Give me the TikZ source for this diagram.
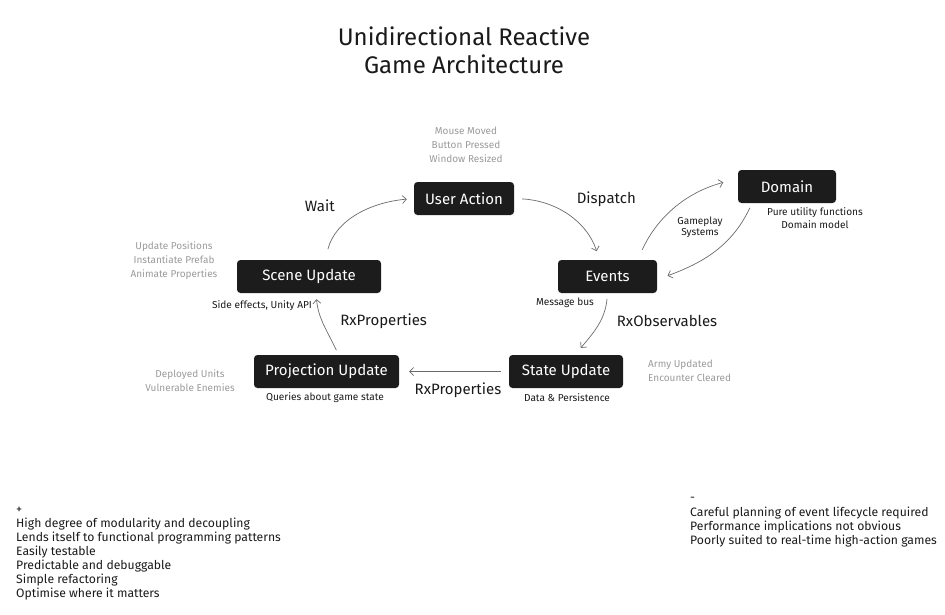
\documentclass[tikz,border=0pt]{standalone}
\usepackage{fontspec}
\setmainfont{Fira Sans}
\usetikzlibrary{arrows.meta,positioning}
\definecolor{boxfill}{HTML}{1C1C1C}
\definecolor{notegray}{HTML}{9A9A9A}
\definecolor{darktext}{HTML}{1A1A1A}
\definecolor{linegray}{HTML}{6A6A6A}
\begin{document}
\begin{tikzpicture}[x=1pt,y=1pt]
% Definição de estilos
\tikzset{
  block/.style={rectangle, rounded corners=3.5pt, fill=boxfill, text=white, minimum height=33pt, inner sep=0pt, font=\fontsize{15}{16}\selectfont},
  flow/.style={draw=linegray, line width=0.7pt, -{Straight Barb[length=4pt,width=8pt]}},
  flowlabel/.style={text=darktext, font=\fontsize{15}{16}\selectfont, inner sep=0pt},
  note/.style={text=notegray, align=center, inner sep=0pt, font=\fontsize{10}{14}\selectfont},
  caption/.style={text=darktext, align=center, inner sep=0pt, font=\fontsize{10.1}{13}\selectfont},
  listing/.style={text=darktext, align=left, inner sep=0pt, anchor=north west, font=\fontsize{12.2}{14}\selectfont}
}
\useasboundingbox (0,0) rectangle (945,-614);

% Título
\node[text=darktext, align=center, font=\fontsize{24}{28}\selectfont] (title) at (464,-50) {Unidirectional Reactive\\Game Architecture};

% Blocos
\node[block, minimum width=100pt] (user_box) at (464,-198.5) {User Action};
\node[block, minimum width=99pt] (events_box) at (607.5,-276.5) {Events};
\node[block, minimum width=98pt] (domain_box) at (787,-186.5) {Domain};
\node[block, minimum width=144pt] (scene_box) at (309,-276.5) {Scene Update};
\node[block, minimum width=145pt] (projection_box) at (326.5,-371.5) {Projection Update};
\node[block, minimum width=114pt] (state_box) at (566,-371.5) {State Update};

% Notas
\node[note] (user_note) at (466,-145) {Mouse Moved\\Button Pressed\\Window Resized};
\node[note] (scene_note) at (174,-261) {Update Positions\\Instantiate Prefab\\Animate Properties};
\node[note] (projection_note) at (190,-381) {Deployed Units\\Vulnerable Enemies};
\node[note, align=left, anchor=west] (state_note) at (648,-371) {Army Updated\\Encounter Cleared};

% Legendas dos blocos
\node[caption] (scene_caption) at (262,-306) {Side effects, Unity API};
\node[caption] (events_caption) at (565,-303) {Message bus};
\node[caption] (projection_caption) at (325,-398) {Queries about game state};
\node[caption] (state_caption) at (567,-398) {Data \& Persistence};
\node[caption] (domain_caption) at (815,-218.5) {Pure utility functions\\Domain model};
\node[caption, font=\fontsize{10.1}{11}\selectfont] (systems_caption) at (700,-227.5) {Gameplay\\Systems};

% Ligações
\draw[flow, shorten <=11pt, shorten >=7pt] ([xshift=16pt]scene_box.north) to[out=75,in=185]
  node[flowlabel, pos=0.3, above left=17pt and 6pt] {Wait} (user_box.west);
\draw[flow, shorten <=8pt, shorten >=9pt] (user_box.east) to[out=-3,in=108]
  node[flowlabel, pos=0.5, above right=8pt and 9pt] {Dispatch} ([xshift=-8pt]events_box.north);
\draw[flow, shorten <=11pt, shorten >=15pt] ([xshift=30pt]events_box.north) to[out=65,in=195] ([yshift=8pt]domain_box.west);
\draw[flow, shorten <=5pt, shorten >=11pt] ([xshift=-35pt]domain_box.south) to[out=-115,in=20] ([yshift=-3pt]events_box.east);
\draw[flow, shorten <=6pt, shorten >=9pt] (events_box.south) to[out=-95,in=50]
  node[flowlabel, pos=0.45, right=18pt, yshift=3pt] {RxObservables} ([xshift=9pt]state_box.north);
\draw[flow, shorten <=8pt, shorten >=10pt] (state_box.west) --
  node[flowlabel, below=11pt, xshift=4pt] {RxProperties} (projection_box.east);
\draw[flow, shorten <=5pt, shorten >=6pt] ([xshift=12pt]projection_box.north) to[out=115,in=-85]
  node[flowlabel, pos=0.5, right=16pt, yshift=4pt] {RxProperties} ([xshift=7pt]scene_box.south);

% Prós e contras
\node[listing] (pros_list) at (16,-507) {+\\High degree of modularity and decoupling\\Lends itself to functional programming patterns\\Easily testable\\Predictable and debuggable\\Simple refactoring\\Optimise where it matters};
\node[listing] (cons_list) at (690,-497) {-\\[1pt]Careful planning of event lifecycle required\\Performance implications not obvious\\Poorly suited to real-time high-action games};

\end{tikzpicture}
\end{document}
